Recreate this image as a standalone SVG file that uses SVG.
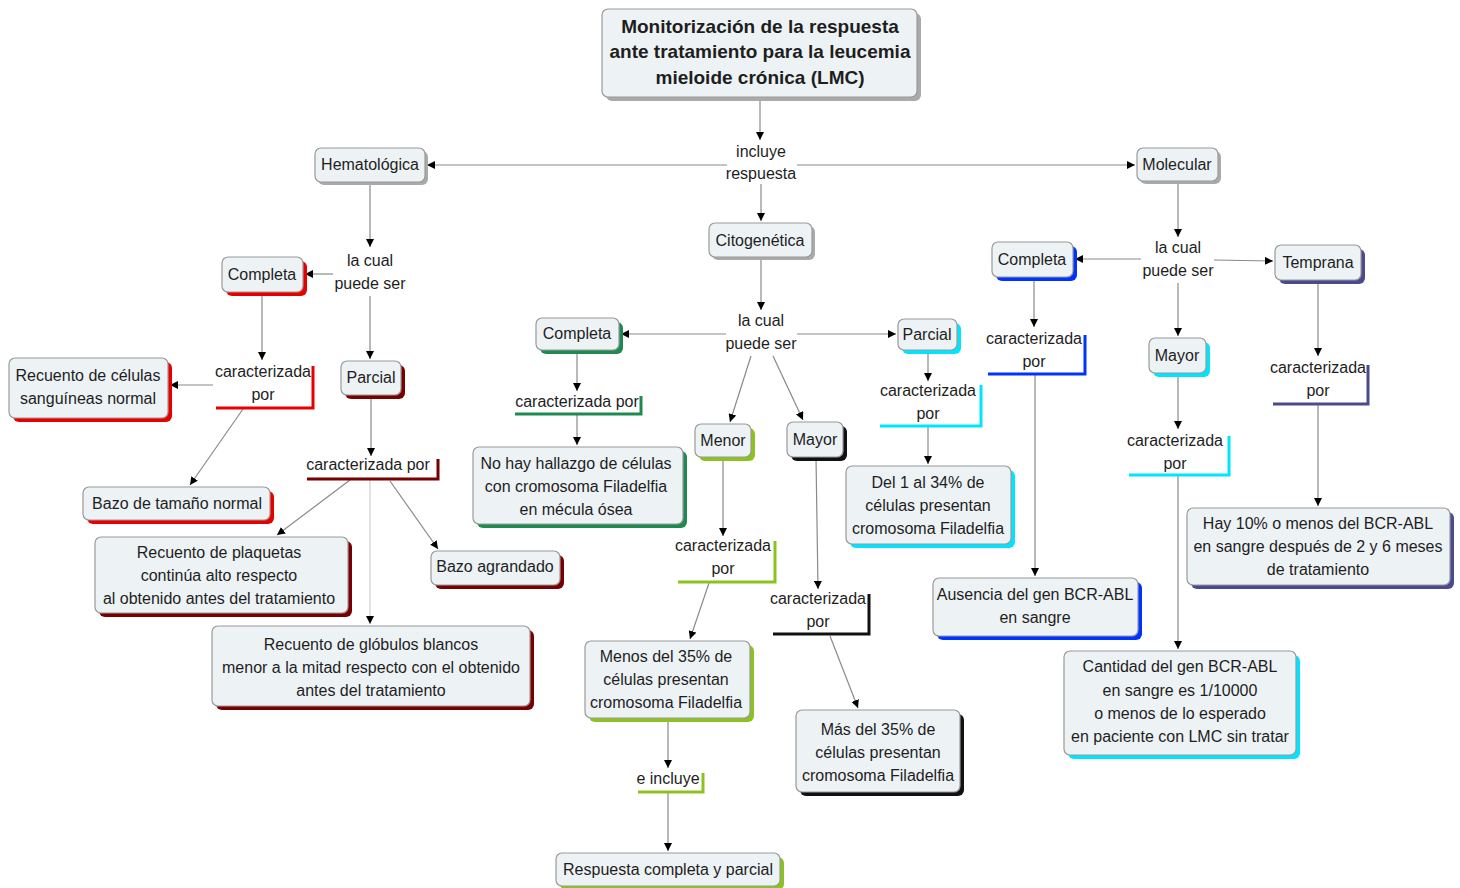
<svg xmlns="http://www.w3.org/2000/svg" width="1460" height="888" viewBox="0 0 1460 888">
<style>
.bg{fill:#ffffff}
.box{fill:#edf2f5;stroke:#9a9a9a;stroke-width:1.2}
.t{font-family:"Liberation Sans",Arial,sans-serif;font-size:16px;fill:#1e1e1e;text-anchor:middle}
.tb{font-family:"Liberation Sans",Arial,sans-serif;font-size:19px;font-weight:bold;fill:#1e1e1e;text-anchor:middle}
.c{stroke:#8a8a8a;stroke-width:1.2;fill:none;marker-end:url(#ah)}
.br{fill:none;stroke-width:3}
.sg{fill:#aaaaaa}.sr{fill:#e80000}.sdr{fill:#780000}.sgr{fill:#1e8a50}.syg{fill:#8cc21f}.sk{fill:#111111}.sc{fill:#00e5ff}.sb{fill:#0033ff}.ss{fill:#4a4a8c}
</style>
<defs>
<marker id="ah" markerWidth="8" markerHeight="8" refX="8" refY="4" orient="auto" markerUnits="userSpaceOnUse"><path d="M0,0 L8,4 L0,8 z" fill="#000"/></marker>
</defs>
<rect class="bg" x="0" y="0" width="1460" height="888"/>

<g id="connectors">
<line class="c" x1="760" y1="97" x2="760" y2="140"/>
<line class="c" x1="727" y1="165" x2="427" y2="165"/>
<line class="c" x1="797" y1="165" x2="1135" y2="165"/>
<line class="c" x1="761" y1="184" x2="761" y2="221"/>
<line class="c" x1="370" y1="182" x2="370" y2="247"/>
<line class="c" x1="333" y1="274" x2="305" y2="274"/>
<line class="c" x1="370" y1="296" x2="370" y2="359"/>
<line class="c" x1="262" y1="293" x2="262" y2="360"/>
<line class="c" x1="213" y1="385" x2="170" y2="385"/>
<line class="c" x1="243" y1="409" x2="190" y2="485"/>
<line class="c" x1="371" y1="396" x2="371" y2="456"/>
<line class="c" x1="350" y1="480" x2="277" y2="535"/>
<line class="c" x1="390" y1="481" x2="438" y2="549"/>
<line class="c" x1="370" y1="480" x2="370" y2="624" style="stroke:#cfcfcf"/>
<line class="c" x1="761" y1="257" x2="761" y2="310"/>
<line class="c" x1="726" y1="334" x2="621" y2="334"/>
<line class="c" x1="797" y1="334" x2="896" y2="334"/>
<line class="c" x1="751" y1="356" x2="730" y2="422"/>
<line class="c" x1="773" y1="356" x2="803" y2="420"/>
<line class="c" x1="577" y1="350" x2="577" y2="391"/>
<line class="c" x1="577" y1="415" x2="577" y2="445"/>
<line class="c" x1="723" y1="457" x2="723" y2="536"/>
<line class="c" x1="709" y1="583" x2="690" y2="639"/>
<line class="c" x1="668" y1="718" x2="668" y2="768"/>
<line class="c" x1="668" y1="793" x2="668" y2="851"/>
<line class="c" x1="816" y1="457" x2="818" y2="589"/>
<line class="c" x1="830" y1="636" x2="858" y2="708"/>
<line class="c" x1="928" y1="350" x2="928" y2="381"/>
<line class="c" x1="928" y1="427" x2="928" y2="464"/>
<line class="c" x1="1178" y1="181" x2="1178" y2="237"/>
<line class="c" x1="1141" y1="259" x2="1075" y2="259"/>
<line class="c" x1="1214" y1="260" x2="1273" y2="261"/>
<line class="c" x1="1178" y1="283" x2="1178" y2="336"/>
<line class="c" x1="1034" y1="277" x2="1034" y2="327"/>
<line class="c" x1="1035" y1="375" x2="1035" y2="576"/>
<line class="c" x1="1178" y1="373" x2="1178" y2="429"/>
<line class="c" x1="1178" y1="476" x2="1178" y2="649"/>
<line class="c" x1="1318" y1="280" x2="1318" y2="356"/>
<line class="c" x1="1318" y1="405" x2="1318" y2="506"/>
</g>

<g id="title">
<rect class="sg" x="606" y="13" width="315" height="88" rx="6"/>
<rect class="box" x="602" y="9" width="315" height="88" rx="6"/>
<text class="tb" x="760" y="33">Monitorización de la respuesta</text>
<text class="tb" x="760" y="58">ante tratamiento para la leucemia</text>
<text class="tb" x="760" y="84">mieloide crónica (LMC)</text>
</g>

<g id="lp-incluye">
<text class="t" x="761" y="157">incluye</text>
<text class="t" x="761" y="179">respuesta</text>
</g>

<g id="hematologica">
<rect class="sg" x="318" y="151" width="110" height="34" rx="6"/>
<rect class="box" x="315" y="148" width="110" height="34" rx="6"/>
<text class="t" x="370" y="170">Hematológica</text>
</g>
<g id="molecular">
<rect class="sg" x="1140" y="151" width="81" height="33" rx="6"/>
<rect class="box" x="1137" y="148" width="81" height="33" rx="6"/>
<text class="t" x="1177" y="170">Molecular</text>
</g>
<g id="citogenetica">
<rect class="sg" x="712" y="226" width="103" height="34" rx="6"/>
<rect class="box" x="709" y="223" width="103" height="34" rx="6"/>
<text class="t" x="760" y="246">Citogenética</text>
</g>

<g id="lp-hem-puede">
<text class="t" x="370" y="266">la cual</text>
<text class="t" x="370" y="289">puede ser</text>
</g>
<g id="hem-completa">
<rect class="sr" x="226" y="261" width="81" height="35" rx="6"/>
<rect class="box" x="222" y="257" width="81" height="35" rx="6"/>
<text class="t" x="262" y="280">Completa</text>
</g>
<g id="hem-parcial">
<rect class="sdr" x="345" y="365" width="60" height="34" rx="6"/>
<rect class="box" x="341" y="361" width="60" height="34" rx="6"/>
<text class="t" x="371" y="383">Parcial</text>
</g>
<g id="lp-hem-comp-carac">
<polyline class="br" stroke="#e80000" points="216,408 313,408 313,366"/>
<text class="t" x="263" y="377">caracterizada</text>
<text class="t" x="263" y="400">por</text>
</g>
<g id="recuento-celulas">
<rect class="sr" x="13" y="362" width="159" height="60" rx="6"/>
<rect class="box" x="9" y="358" width="159" height="60" rx="6"/>
<text class="t" x="88" y="381">Recuento de células</text>
<text class="t" x="88" y="404">sanguíneas normal</text>
</g>
<g id="bazo-normal">
<rect class="sr" x="87" y="491" width="187" height="33" rx="6"/>
<rect class="box" x="83" y="487" width="187" height="33" rx="6"/>
<text class="t" x="177" y="509">Bazo de tamaño normal</text>
</g>
<g id="lp-hem-parc-carac">
<polyline class="br" stroke="#780000" points="307,479 438,479 438,459"/>
<text class="t" x="368" y="470">caracterizada por</text>
</g>
<g id="recuento-plaquetas">
<rect class="sdr" x="99" y="541" width="253" height="76" rx="6"/>
<rect class="box" x="95" y="537" width="253" height="76" rx="6"/>
<text class="t" x="219" y="558">Recuento de plaquetas</text>
<text class="t" x="219" y="581">continúa alto respecto</text>
<text class="t" x="219" y="604">al obtenido antes del tratamiento</text>
</g>
<g id="bazo-agrandado">
<rect class="sdr" x="435" y="555" width="129" height="34" rx="6"/>
<rect class="box" x="431" y="551" width="129" height="34" rx="6"/>
<text class="t" x="495" y="572">Bazo agrandado</text>
</g>
<g id="recuento-globulos">
<rect class="sdr" x="216" y="630" width="318" height="80" rx="6"/>
<rect class="box" x="212" y="626" width="318" height="80" rx="6"/>
<text class="t" x="371" y="650">Recuento de glóbulos blancos</text>
<text class="t" x="371" y="673">menor a la mitad respecto con el obtenido</text>
<text class="t" x="371" y="696">antes del tratamiento</text>
</g>

<g id="lp-cit-puede">
<text class="t" x="761" y="326">la cual</text>
<text class="t" x="761" y="349">puede ser</text>
</g>
<g id="cit-completa">
<rect class="sgr" x="540" y="322" width="83" height="32" rx="6"/>
<rect class="box" x="536" y="318" width="83" height="32" rx="6"/>
<text class="t" x="577" y="339">Completa</text>
</g>
<g id="cit-parcial">
<rect class="sc" x="902" y="323" width="59" height="31" rx="6"/>
<rect class="box" x="898" y="319" width="59" height="31" rx="6"/>
<text class="t" x="927" y="340">Parcial</text>
</g>
<g id="cit-menor">
<rect class="syg" x="699" y="428" width="56" height="33" rx="6"/>
<rect class="box" x="695" y="424" width="56" height="33" rx="6"/>
<text class="t" x="723" y="446">Menor</text>
</g>
<g id="cit-mayor">
<rect class="sk" x="791" y="426" width="56" height="35" rx="6"/>
<rect class="box" x="787" y="422" width="56" height="35" rx="6"/>
<text class="t" x="815" y="445">Mayor</text>
</g>
<g id="lp-cit-comp-carac">
<polyline class="br" stroke="#1e8a50" points="515,414 641,414 641,396"/>
<text class="t" x="577" y="407">caracterizada por</text>
</g>
<g id="no-hay-hallazgo">
<rect class="sgr" x="477" y="451" width="210" height="77" rx="6"/>
<rect class="box" x="473" y="447" width="210" height="77" rx="6"/>
<text class="t" x="576" y="469">No hay hallazgo de células</text>
<text class="t" x="576" y="492">con cromosoma Filadelfia</text>
<text class="t" x="576" y="515">en mécula ósea</text>
</g>
<g id="lp-menor-carac">
<polyline class="br" stroke="#8cc21f" points="678,582 775,582 775,541"/>
<text class="t" x="723" y="551">caracterizada</text>
<text class="t" x="723" y="574">por</text>
</g>
<g id="menos-35">
<rect class="syg" x="589" y="645" width="165" height="77" rx="6"/>
<rect class="box" x="585" y="641" width="165" height="77" rx="6"/>
<text class="t" x="666" y="662">Menos del 35% de</text>
<text class="t" x="666" y="685">células presentan</text>
<text class="t" x="666" y="708">cromosoma Filadelfia</text>
</g>
<g id="lp-e-incluye">
<polyline class="br" stroke="#8cc21f" points="638,792 703,792 703,773"/>
<text class="t" x="668" y="784">e incluye</text>
</g>
<g id="respuesta-completa-parcial">
<rect class="syg" x="560" y="857" width="224" height="33" rx="6"/>
<rect class="box" x="556" y="853" width="224" height="33" rx="6"/>
<text class="t" x="668" y="875">Respuesta completa y parcial</text>
</g>
<g id="lp-mayor-carac">
<polyline class="br" stroke="#111111" points="773,634 869,634 869,594"/>
<text class="t" x="818" y="604">caracterizada</text>
<text class="t" x="818" y="627">por</text>
</g>
<g id="mas-35">
<rect class="sk" x="800" y="714" width="164" height="82" rx="6"/>
<rect class="box" x="796" y="710" width="164" height="82" rx="6"/>
<text class="t" x="878" y="735">Más del 35% de</text>
<text class="t" x="878" y="758">células presentan</text>
<text class="t" x="878" y="781">cromosoma Filadelfia</text>
</g>
<g id="lp-parcial-carac">
<polyline class="br" stroke="#00e5ff" points="880,426 981,426 981,385"/>
<text class="t" x="928" y="396">caracterizada</text>
<text class="t" x="928" y="419">por</text>
</g>
<g id="del-1-34">
<rect class="sc" x="850" y="470" width="165" height="78" rx="6"/>
<rect class="box" x="846" y="466" width="165" height="78" rx="6"/>
<text class="t" x="928" y="488">Del 1 al 34% de</text>
<text class="t" x="928" y="511">células presentan</text>
<text class="t" x="928" y="534">cromosoma Filadelfia</text>
</g>

<g id="lp-mol-puede">
<text class="t" x="1178" y="253">la cual</text>
<text class="t" x="1178" y="276">puede ser</text>
</g>
<g id="mol-completa">
<rect class="sb" x="996" y="246" width="81" height="35" rx="6"/>
<rect class="box" x="992" y="242" width="81" height="35" rx="6"/>
<text class="t" x="1032" y="265">Completa</text>
</g>
<g id="mol-temprana">
<rect class="ss" x="1279" y="249" width="86" height="35" rx="6"/>
<rect class="box" x="1275" y="245" width="86" height="35" rx="6"/>
<text class="t" x="1318" y="268">Temprana</text>
</g>
<g id="mol-mayor">
<rect class="sc" x="1153" y="342" width="57" height="35" rx="6"/>
<rect class="box" x="1149" y="338" width="57" height="35" rx="6"/>
<text class="t" x="1177" y="361">Mayor</text>
</g>
<g id="lp-mol-comp-carac">
<polyline class="br" stroke="#0033ff" points="988,374 1085,374 1085,335"/>
<text class="t" x="1034" y="344">caracterizada</text>
<text class="t" x="1034" y="367">por</text>
</g>
<g id="ausencia">
<rect class="sb" x="937" y="582" width="205" height="58" rx="6"/>
<rect class="box" x="933" y="578" width="205" height="58" rx="6"/>
<text class="t" x="1035" y="600">Ausencia del gen BCR-ABL</text>
<text class="t" x="1035" y="623">en sangre</text>
</g>
<g id="lp-mol-mayor-carac">
<polyline class="br" stroke="#00e5ff" points="1129,475 1229,475 1229,436"/>
<text class="t" x="1175" y="446">caracterizada</text>
<text class="t" x="1175" y="469">por</text>
</g>
<g id="cantidad">
<rect class="sc" x="1068" y="655" width="232" height="104" rx="6"/>
<rect class="box" x="1064" y="651" width="232" height="104" rx="6"/>
<text class="t" x="1180" y="672">Cantidad del gen BCR-ABL</text>
<text class="t" x="1180" y="696">en sangre es 1/10000</text>
<text class="t" x="1180" y="719">o menos de lo esperado</text>
<text class="t" x="1180" y="742">en paciente con LMC sin tratar</text>
</g>
<g id="lp-temprana-carac">
<polyline class="br" stroke="#4a4a8c" points="1273,404 1368,404 1368,365"/>
<text class="t" x="1318" y="373">caracterizada</text>
<text class="t" x="1318" y="396">por</text>
</g>
<g id="hay-10">
<rect class="ss" x="1191" y="512" width="263" height="77" rx="6"/>
<rect class="box" x="1187" y="508" width="263" height="77" rx="6"/>
<text class="t" x="1318" y="529">Hay 10% o menos del BCR-ABL</text>
<text class="t" x="1318" y="552">en sangre después de 2 y 6 meses</text>
<text class="t" x="1318" y="575">de tratamiento</text>
</g>
</svg>
